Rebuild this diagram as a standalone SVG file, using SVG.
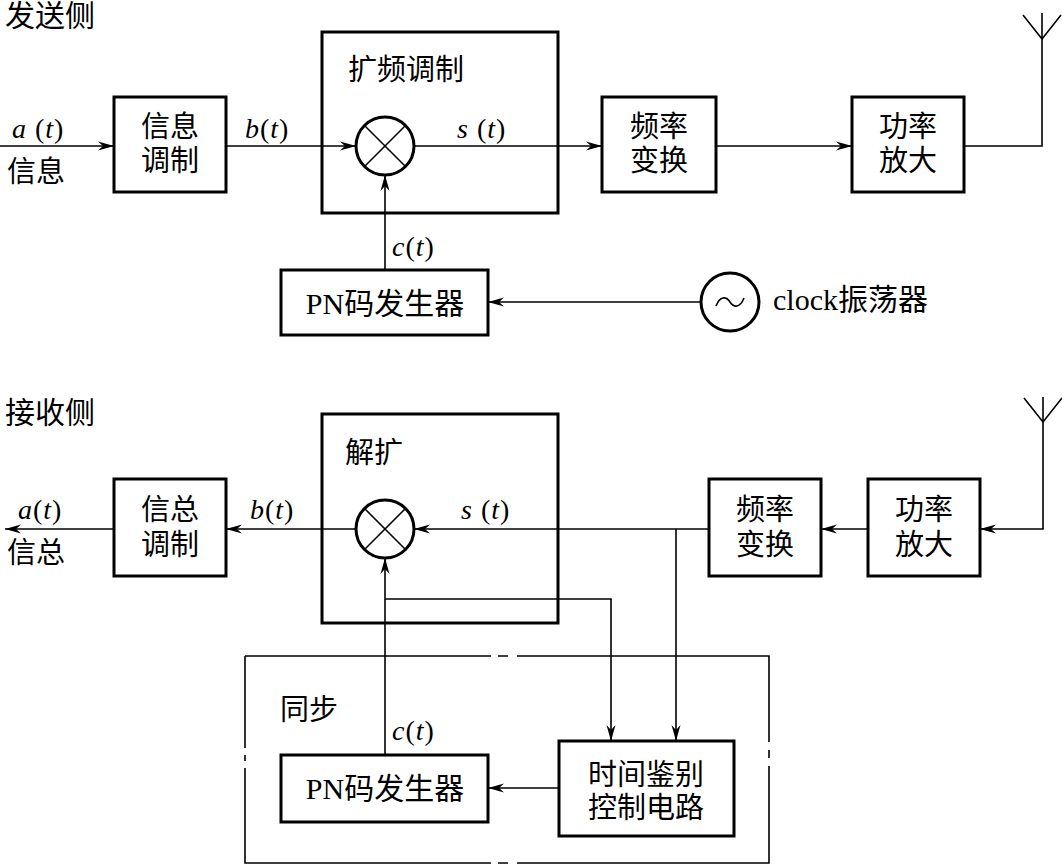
<svg xmlns="http://www.w3.org/2000/svg" width="1062" height="866" viewBox="0 0 1062 866">
<style>
.box{fill:#fff;stroke:#000;stroke-width:3}
.frame{fill:none;stroke:#000;stroke-width:3}
.ln{fill:none;stroke:#000;stroke-width:1.6}
.mul{fill:#fff;stroke:#000;stroke-width:3}
.x{stroke:#000;stroke-width:1.6}
.cjk{font-family:"Liberation Serif","Noto Sans CJK SC",serif;font-size:29px;fill:#000}
.big{font-size:30px}
.mid{text-anchor:middle}
.m{font-family:"Liberation Serif",serif;font-size:28px;fill:#000;letter-spacing:1px}
.i{font-style:italic}
</style>
<defs>
<marker id="arr" viewBox="-17 -6 18 12" refX="0" refY="0" markerWidth="18" markerHeight="12" markerUnits="userSpaceOnUse" orient="auto">
<path d="M0,0 L-16,-4.5 L-11,0 L-16,4.5 Z" fill="#000"/>
</marker>
</defs>

<!-- ============ Transmitter side ============ -->
<text class="cjk big" x="5" y="26">发送侧</text>

<g id="connectors-tx">
<line class="ln" x1="0" y1="146" x2="114" y2="146" marker-end="url(#arr)"/>
<line class="ln" x1="226" y1="146" x2="356" y2="146" marker-end="url(#arr)"/>
<line class="ln" x1="414" y1="146" x2="602" y2="146" marker-end="url(#arr)"/>
<line class="ln" x1="716" y1="146" x2="852" y2="146" marker-end="url(#arr)"/>
<polyline class="ln" points="964,146 1042,146 1042,13"/>
<polyline class="ln" points="1023,15 1042,39 1061,15"/>
<line class="ln" x1="385" y1="270" x2="385" y2="175" marker-end="url(#arr)"/>
<line class="ln" x1="701" y1="302" x2="488" y2="302" marker-end="url(#arr)"/>
</g>

<g id="labels-tx">
<text class="m" x="12" y="138"><tspan class="i">a</tspan> (<tspan class="i">t</tspan>)</text>
<text class="cjk" x="7" y="182">信息</text>
<text class="m" x="245" y="138"><tspan class="i">b</tspan>(<tspan class="i">t</tspan>)</text>
<text class="m" x="457" y="138"><tspan class="i">s</tspan> (<tspan class="i">t</tspan>)</text>
<text class="m" x="392" y="256"><tspan class="i">c</tspan>(<tspan class="i">t</tspan>)</text>
</g>

<g id="tx-info-mod">
<rect class="box" x="114" y="97" width="112" height="95"/>
<text class="cjk mid" x="170" y="137">信息</text>
<text class="cjk mid" x="170" y="171">调制</text>
</g>

<g id="tx-spread">
<rect class="frame" x="322" y="32" width="236" height="181"/>
<text class="cjk" x="348" y="80">扩频调制</text>
<circle class="mul" cx="385" cy="146" r="29"/>
<line class="x" x1="364.5" y1="125.5" x2="405.5" y2="166.5"/>
<line class="x" x1="405.5" y1="125.5" x2="364.5" y2="166.5"/>
</g>

<g id="tx-freq">
<rect class="box" x="602" y="97" width="114" height="95"/>
<text class="cjk mid" x="659" y="137">频率</text>
<text class="cjk mid" x="659" y="171">变换</text>
</g>

<g id="tx-power">
<rect class="box" x="852" y="97" width="112" height="95"/>
<text class="cjk mid" x="908" y="137">功率</text>
<text class="cjk mid" x="908" y="171">放大</text>
</g>

<g id="tx-pn">
<rect class="box" x="281" y="270" width="207" height="65"/>
<text class="cjk big mid" x="385" y="314">PN码发生器</text>
</g>

<g id="tx-clock">
<circle class="mul" cx="730" cy="302" r="29" stroke-width="2.5"/>
<path class="ln" d="M716,306 C720,296 726,296 730,302 C734,308 740,308 744,298"/>
<text class="cjk big" x="773" y="310">clock振荡器</text>
</g>

<!-- ============ Receiver side ============ -->
<text class="cjk big" x="5" y="423">接收侧</text>

<g id="connectors-rx">
<line class="ln" x1="114" y1="529" x2="5" y2="529" marker-end="url(#arr)"/>
<line class="ln" x1="356" y1="529" x2="226" y2="529" marker-end="url(#arr)"/>
<line class="ln" x1="709" y1="529" x2="414" y2="529" marker-end="url(#arr)"/>
<line class="ln" x1="868" y1="529" x2="821" y2="529" marker-end="url(#arr)"/>
<polyline class="ln" points="1043,397 1043,529 980,529" marker-end="url(#arr)"/>
<polyline class="ln" points="1024,398 1043,422 1062,398"/>
<line class="ln" x1="676" y1="529" x2="676" y2="741" marker-end="url(#arr)"/>
<polyline class="ln" points="385,599 611,599 611,741" marker-end="url(#arr)"/>
<line class="ln" x1="385" y1="755" x2="385" y2="558" marker-end="url(#arr)"/>
<line class="ln" x1="559" y1="788" x2="488" y2="788" marker-end="url(#arr)"/>
</g>

<g id="labels-rx">
<text class="m" x="18" y="519"><tspan class="i">a</tspan>(<tspan class="i">t</tspan>)</text>
<text class="cjk" x="7" y="563">信总</text>
<text class="m" x="250" y="519"><tspan class="i">b</tspan>(<tspan class="i">t</tspan>)</text>
<text class="m" x="461" y="519"><tspan class="i">s</tspan> (<tspan class="i">t</tspan>)</text>
<text class="m" x="392" y="740"><tspan class="i">c</tspan>(<tspan class="i">t</tspan>)</text>
</g>

<g id="rx-info-mod">
<rect class="box" x="114" y="479" width="112" height="97"/>
<text class="cjk mid" x="170" y="520">信总</text>
<text class="cjk mid" x="170" y="555">调制</text>
</g>

<g id="rx-despread">
<rect class="frame" x="322" y="414" width="236" height="209"/>
<text class="cjk" x="345" y="463">解扩</text>
<circle class="mul" cx="385" cy="529" r="29"/>
<line class="x" x1="364.5" y1="508.5" x2="405.5" y2="549.5"/>
<line class="x" x1="405.5" y1="508.5" x2="364.5" y2="549.5"/>
</g>

<g id="rx-freq">
<rect class="box" x="709" y="479" width="112" height="97"/>
<text class="cjk mid" x="765" y="520">频率</text>
<text class="cjk mid" x="765" y="555">变换</text>
</g>

<g id="rx-power">
<rect class="box" x="868" y="479" width="112" height="97"/>
<text class="cjk mid" x="924" y="520">功率</text>
<text class="cjk mid" x="924" y="555">放大</text>
</g>

<g id="rx-sync">
<path class="ln" stroke-width="2.2" d="M245,656 H491 M498,656 H508 M517,656 H769 V742 M769,750 V758 M769,766 V863 H517 M508,863 H498 M491,863 H245 V768 M245,761 V755 M245,748 V656"/>
<text class="cjk" x="280" y="720">同步</text>
</g>

<g id="rx-pn">
<rect class="box" x="281" y="755" width="207" height="67"/>
<text class="cjk big mid" x="385" y="799">PN码发生器</text>
</g>

<g id="rx-timing">
<rect class="box" x="559" y="741" width="175" height="95"/>
<text class="cjk mid" x="646" y="785">时间鉴别</text>
<text class="cjk mid" x="646" y="818">控制电路</text>
</g>
</svg>
